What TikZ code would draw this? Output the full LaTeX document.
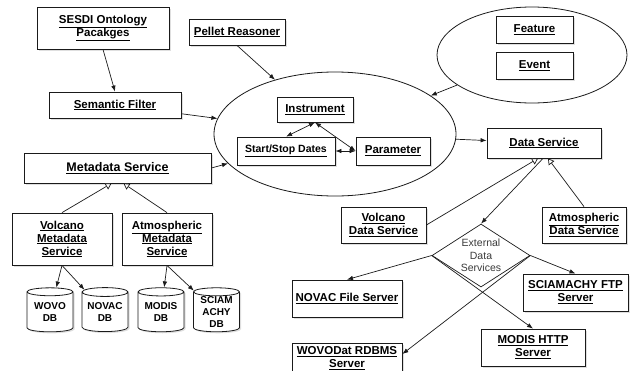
\documentclass[tikz,border=0pt]{standalone}
\usepackage{fontspec}
\setmainfont{Liberation Sans}
\usetikzlibrary{arrows.meta,shapes.geometric,shadows}
\definecolor{ink}{HTML}{1A1A1A}
\definecolor{muted}{HTML}{3A3A3A}
\newcommand{\ulbl}[1]{\underline{#1}}

\begin{document}
\begin{tikzpicture}[x=1pt,y=-1pt,>={Latex[length=6pt,width=4.5pt]},
  box/.style={draw=ink,fill=white,line width=0.8pt,align=center,inner sep=2pt,
    font=\bfseries\fontsize{11.5}{13}\selectfont,
    drop shadow={opacity=0.25,shadow xshift=1.5pt,shadow yshift=-1.5pt}},
  db/.style={cylinder,shape border rotate=90,aspect=0.25,draw=ink,fill=white,line width=0.8pt,
    align=center,inner sep=0pt,minimum width=46,minimum height=44,
    font=\bfseries\fontsize{10}{12}\selectfont,
    drop shadow={opacity=0.25,shadow xshift=1.5pt,shadow yshift=-1.5pt}},
  group/.style={ellipse,draw=ink,line width=0.8pt},
  link/.style={->,ink,line width=0.7pt},
  both/.style={<->,ink,line width=0.7pt},
  isa/.style={-{Triangle[fill=white,length=6pt,width=7pt]},ink,line width=0.7pt}]
  \useasboundingbox (0,0) rectangle (632,370);
  \clip (0,0) rectangle (632,370);
  \node[group,minimum width=242,minimum height=124] (core) at (335,134) {};
  \node[group,minimum width=190,minimum height=96] (events) at (532,55) {};
  \node[box,minimum width=132,minimum height=42] (sesdi) at (103,28) {\ulbl{SESDI Ontology}\\\ulbl{Pacakges}};
  \node[box,minimum width=96,minimum height=26] (pellet) at (237,32) {\ulbl{Pellet Reasoner}};
  \node[box,minimum width=132,minimum height=26] (filter) at (115,105) {\ulbl{Semantic Filter}};
  \node[box,minimum width=187,minimum height=30,font=\bfseries\fontsize{12.5}{14}\selectfont] (metadata) at (117.5,168) {\ulbl{Metadata Service}};
  \node[box,minimum width=76,minimum height=25] (instrument) at (315,109.5) {\ulbl{Instrument}};
  \node[box,minimum width=98,minimum height=28,inner sep=1pt,font=\bfseries\fontsize{10.5}{12}\selectfont] (dates) at (286,151) {\ulbl{Start/Stop Dates}};
  \node[box,minimum width=74,minimum height=28] (parameter) at (393,151) {\ulbl{Parameter}};
  \node[box,minimum width=77,minimum height=27] (feature) at (534.5,29.5) {\ulbl{Feature}};
  \node[box,minimum width=77,minimum height=27] (event) at (534.5,65.5) {\ulbl{Event}};
  \node[box,minimum width=114,minimum height=30] (dataservice) at (544,143) {\ulbl{Data Service}};
  \node[box,minimum width=100,minimum height=52] (volcmeta) at (62,239) {\ulbl{Volcano}\\\ulbl{Metadata}\\\ulbl{Service}};
  \node[box,minimum width=90,minimum height=52] (atmometa) at (167,239) {\ulbl{Atmospheric}\\\ulbl{Metadata}\\\ulbl{Service}};
  \node[box,minimum width=85,minimum height=36] (volcdata) at (383.5,225) {\ulbl{Volcano}\\\ulbl{Data Service}};
  \node[box,minimum width=84,minimum height=36] (atmodata) at (584,225) {\ulbl{Atmospheric}\\\ulbl{Data Service}};
  \node[diamond,aspect=1.55,draw=ink,line width=0.7pt,inner sep=0pt,minimum width=98,minimum height=63,
    align=center,text=muted,font=\fontsize{10.5}{12.5}\selectfont] (external) at (481,255.5) {External\\Data\\Services};
  \node[box,minimum width=110,minimum height=37] (novacfile) at (347,298.5) {\ulbl{NOVAC File Server}};
  \node[box,minimum width=105,minimum height=37] (sciaftp) at (575.5,292.5) {\ulbl{SCIAMACHY FTP}\\\ulbl{Server}};
  \node[box,minimum width=110,minimum height=30] (wovodat) at (347,358) {\ulbl{WOVODat RDBMS}\\\ulbl{Server}};
  \node[box,minimum width=104,minimum height=37] (modishttp) at (533,347.5) {\ulbl{MODIS HTTP}\\\ulbl{Server}};
  \foreach \x/\n/\t in {50/wovo/{WOVO\\DB},105/novac/{NOVAC\\DB},161/modis/{MODIS\\DB},216.5/sciam/{SCIAM\\ACHY\\DB}}
    \node[db] (\n) at (\x,312) {\t};

  \draw[link] (sesdi.south) -- (filter.north);
  \draw[link] (pellet.south) -- (core);
  \draw[link] (filter) -- (core);
  \draw[link] (metadata.east) -- (core);
  \draw[link] (events) -- (core);
  \draw[link] (core) -- (dataservice);
  \draw[both] (instrument.south) -- (dates.north);
  \draw[both] (instrument.south) -- (parameter.west);
  \draw[both] (dates) -- (parameter);
  \draw[isa] (volcmeta.north) -- ([xshift=-6pt]metadata.south);
  \draw[isa] (atmometa.north) -- ([xshift=6pt]metadata.south);
  \foreach \n in {wovo,novac} \draw[link] (volcmeta.south) -- (\n);
  \foreach \n in {modis,sciam} \draw[link] (atmometa.south) -- (\n);
  \draw[isa] (volcdata.east) -- ([xshift=-6pt]dataservice.south);
  \draw[isa] (atmodata.north) -- ([xshift=4pt]dataservice.south);
  \draw[link] ([xshift=-1pt]dataservice.south) -- (external.north);
  \draw[link] (external.west) -- (novacfile.north);
  \draw[link] (external.west) -- (modishttp.north);
  \draw[link] (external.east) -- (sciaftp.north);
  \draw[link] (external.east) -- ([yshift=4pt]wovodat.east);
\end{tikzpicture}
\end{document}
